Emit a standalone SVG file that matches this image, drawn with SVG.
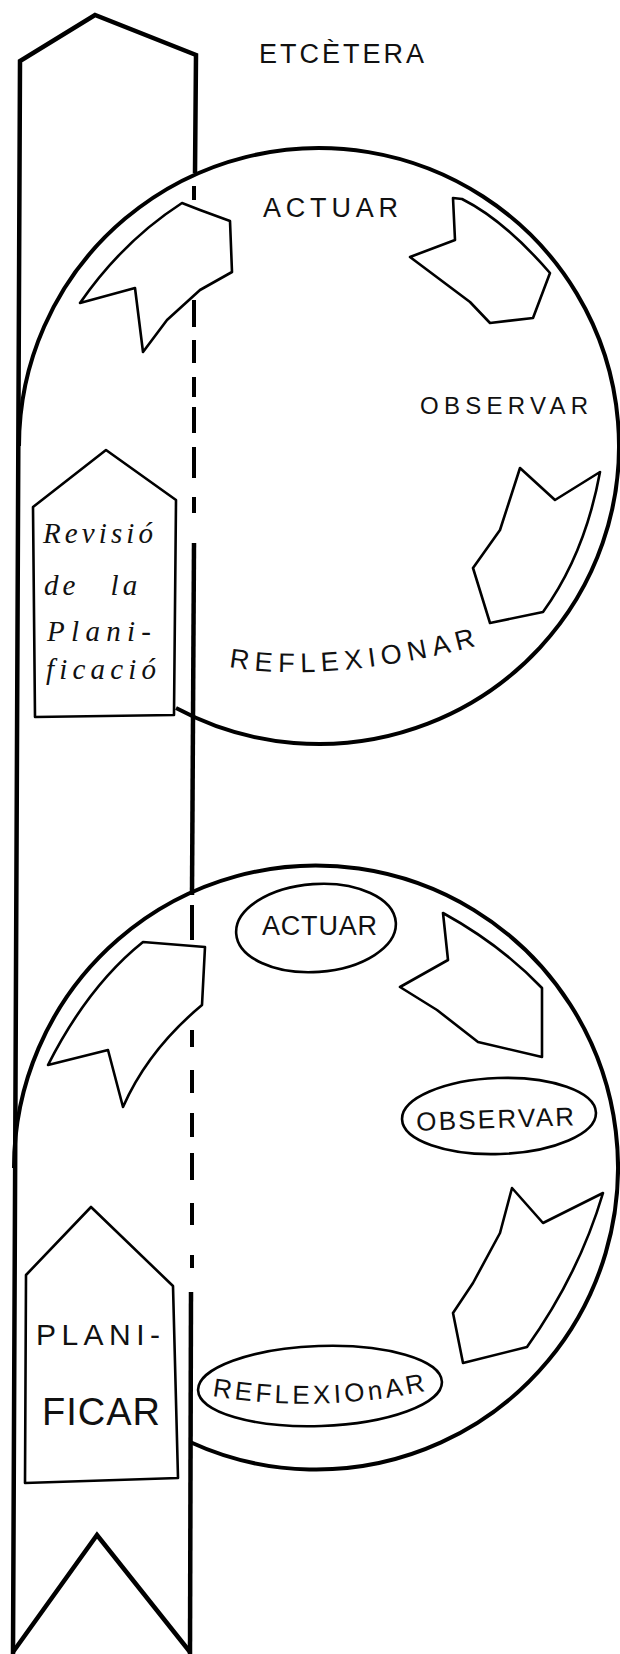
<svg xmlns="http://www.w3.org/2000/svg" width="620" height="1654" viewBox="0 0 620 1654">
<style>
.edge{fill:none;stroke:#000;stroke-width:4.5;stroke-linejoin:miter;stroke-linecap:butt}
.circ{fill:none;stroke:#000;stroke-width:4}
.dash{fill:none;stroke:#000;stroke-width:4}
.arw{fill:#fff;stroke:#000;stroke-width:2.6;stroke-linejoin:round}
.box{fill:#fff;stroke:#000;stroke-width:2.6;stroke-linejoin:round}
.ell{fill:#fff;stroke:#000;stroke-width:2.6}
.lbl{font-family:"Liberation Sans",Arial,sans-serif;fill:#111}
.cur{font-family:"Liberation Serif","Times New Roman",serif;font-style:italic;fill:#111;font-size:29px}
</style>
<defs>
<path id="p1" d="M229 667 Q330 684 480 645"/>
<path id="p2" d="M212 1396 Q320 1414 430 1390"/>
</defs>
<rect width="620" height="1654" fill="#fff"/>

<g id="ribbon">
<path class="edge" d="M13 1654 L20 61 L95 15 L196 55 L195 173"/>
<path class="edge" d="M13 1652 L97 1535 L190 1652"/>
<path class="edge" d="M194 543 L192 895"/>
<path class="edge" d="M191 1292 L190 1654"/>
</g>

<g id="cycle1">
<path class="circ" d="M19 446 A300 298 0 1 1 176 708"/>
</g>
<g id="cycle2">
<path class="circ" d="M14 1168 A302 302 0 1 1 190 1442"/>
</g>

<g id="connectors">
<path class="dash" d="M194 186 L194 200 M194 300 L194 327 M194 340 L194 363 M194 377 L194 397 M194 407 L194 433 M194 447 L194 478 M194 497 L194 513"/>
<path class="dash" d="M192 905 L192 940 M192 960 L192 1010 M192 1030 L192 1047 M192 1070 L192 1093 M192 1113 L192 1137 M192 1153 L192 1180 M192 1203 L192 1225 M192 1255 L192 1268"/>
<path class="arw" d="M182 203 L200 210 L230 221 L232 272 L200 290 L167 320 L143 352 L135 288 L80 303 Q123 241 182 203 Z"/>
<path class="arw" d="M453 198 L462 199 Q504 220 550 273 L533 318 L490 323 L470 302 L410 257 L455 240 Z"/>
<path class="arw" d="M520 468 L555 500 L600 472 Q585 554 543 612 L490 623 L473 568 L500 530 Z"/>
<path class="arw" d="M143 942 L205 947 L202 1005 Q148 1050 123 1107 L108 1050 L48 1065 Q88 986 143 942 Z"/>
<path class="arw" d="M443 913 L448 960 L400 987 L437 1010 L478 1042 L542 1057 L542 988 Q501 945 443 913 Z"/>
<path class="arw" d="M512 1188 L543 1223 L603 1193 Q579 1274 527 1347 L463 1363 L453 1313 L473 1283 L500 1233 Z"/>
</g>

<g id="etcetera">
<text class="lbl" x="259" y="63" font-size="27" textLength="165" lengthAdjust="spacing">ETCÈTERA</text>
</g>

<g id="actuar1">
<text class="lbl" x="263" y="217" font-size="27" textLength="135" lengthAdjust="spacing">ACTUAR</text>
</g>
<g id="observar1">
<text class="lbl" x="420" y="414" font-size="24" textLength="168" lengthAdjust="spacing">OBSERVAR</text>
</g>
<g id="reflexionar1">
<text class="lbl" font-size="27"><textPath href="#p1" textLength="250" lengthAdjust="spacing">REFLEXIONAR</textPath></text>
</g>

<g id="revisio">
<path class="box" d="M106 450 L176 500 L174 715 L35 717 L33 507 Z"/>
<text class="cur" x="43" y="543" textLength="110" lengthAdjust="spacing">Revisió</text>
<text class="cur" x="44" y="595" letter-spacing="4" word-spacing="20">de la</text>
<text class="cur" x="47" y="641" textLength="104" lengthAdjust="spacing">Plani-</text>
<text class="cur" x="46" y="679" textLength="110" lengthAdjust="spacing">ficació</text>
</g>

<g id="actuar2">
<ellipse class="ell" cx="316" cy="928" rx="80" ry="44" transform="rotate(-4 316 928)"/>
<text class="lbl" x="262" y="935" font-size="27" textLength="115" lengthAdjust="spacing">ACTUAR</text>
</g>
<g id="observar2">
<ellipse class="ell" cx="499" cy="1116" rx="97" ry="38" transform="rotate(-2 499 1116)"/>
<text class="lbl" x="416" y="1128" font-size="26" textLength="158" lengthAdjust="spacing" transform="rotate(-2 495 1118)">OBSERVAR</text>
</g>
<g id="reflexionar2">
<ellipse class="ell" cx="320" cy="1386" rx="122" ry="40" transform="rotate(-2 320 1386)"/>
<text class="lbl" font-size="26"><textPath href="#p2" textLength="215" lengthAdjust="spacing">REFLEXIOnAR</textPath></text>
</g>

<g id="planificar">
<path class="box" d="M91 1207 L173 1286 L178 1478 L25 1483 L26 1275 Z"/>
<text class="lbl" x="36" y="1345" font-size="30" textLength="124" lengthAdjust="spacing">PLANI-</text>
<text class="lbl" x="42" y="1425" font-size="38" textLength="118" lengthAdjust="spacing">FICAR</text>
</g>
</svg>
